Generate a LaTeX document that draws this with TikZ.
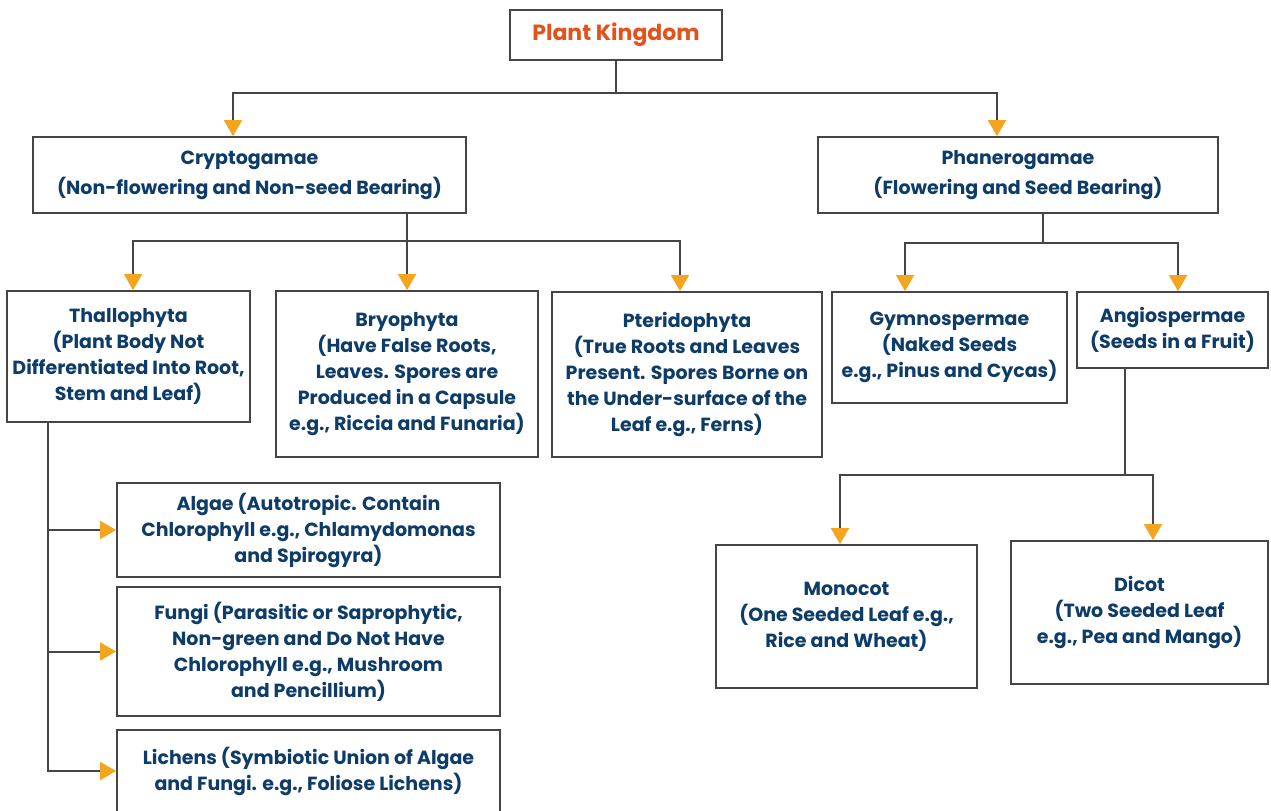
\documentclass[tikz,border=0pt]{standalone}
\usepackage{fontspec}
\setmainfont{Poppins}
\usepackage{xcolor}
\usetikzlibrary{arrows.meta, positioning, calc}
\definecolor{kingorange}{HTML}{E4521B}
\definecolor{textnavy}{HTML}{0E3C68}
\definecolor{tiporange}{HTML}{F3A51E}
\definecolor{linegray}{HTML}{454545}

\begin{document}
\begin{tikzpicture}[x=0.5pt, y=-0.5pt,
    box/.style={draw=linegray, line width=0.9pt, fill=white, align=center, text=textnavy,
      font=\bfseries\fontsize{9.5}{13}\selectfont, inner sep=2pt},
    link/.style={draw=linegray, line width=1pt},
    arr/.style={link, -{Triangle[width=9pt, length=8pt, color=tiporange]}}]
      \useasboundingbox (0,0) rectangle (1271,810);
      \clip (0,0) rectangle (1271,810);

      % Root
      \node[box, minimum width=106pt, minimum height=25pt, text=kingorange,
        font=\bfseries\fontsize{11}{13}\selectfont] (kingdom) at (616,35) {Plant Kingdom};

      % Two main divisions
      \node[box, minimum width=216.5pt, minimum height=38pt, font=\bfseries\fontsize{9.5}{15}\selectfont]
        (crypto) at (249.5,175) {Cryptogamae\\(Non-flowering and Non-seed Bearing)};
      \node[box, minimum width=200pt, minimum height=38pt, font=\bfseries\fontsize{9.5}{15}\selectfont]
        (phanero) at (1018,175) {Phanerogamae\\(Flowering and Seed Bearing)};

      % Cryptogamae groups
      \node[box, minimum width=121.5pt, minimum height=65.5pt] (thallo) at (128.5,356.5)
        {Thallophyta\\(Plant Body Not\\Differentiated Into Root,\\Stem and Leaf)};
      \node[box, minimum width=131pt, minimum height=83pt] (bryo) at (407,374)
        {Bryophyta\\(Have False Roots,\\Leaves. Spores are\\Produced in a Capsule\\e.g., Riccia and Funaria)};
      \node[box, minimum width=135pt, minimum height=82.5pt] (pterido) at (687,374.5)
        {Pteridophyta\\(True Roots and Leaves\\Present. Spores Borne on\\the Under-surface of the\\Leaf e.g., Ferns)};

      % Phanerogamae groups
      \node[box, minimum width=117.5pt, minimum height=55.5pt] (gymno) at (949.5,347.5)
        {Gymnospermae\\(Naked Seeds\\e.g., Pinus and Cycas)};
      \node[box, minimum width=95.5pt, minimum height=38pt] (angio) at (1172.5,330)
        {Angiospermae\\(Seeds in a Fruit)};
      \node[box, minimum width=130.5pt, minimum height=71.5pt] (monocot) at (846.5,616.5)
        {Monocot\\(One Seeded Leaf e.g.,\\Rice and Wheat)};
      \node[box, minimum width=128.5pt, minimum height=71.5pt] (dicot) at (1139.5,612.5)
        {Dicot\\(Two Seeded Leaf\\e.g., Pea and Mango)};

      % Thallophyta groups
      \node[box, minimum width=191.5pt, minimum height=47pt] (algae) at (308.5,530)
        {Algae (Autotropic. Contain\\Chlorophyll e.g., Chlamydomonas\\and Spirogyra)};
      \node[box, minimum width=191.5pt, minimum height=64.5pt] (fungi) at (308.5,651.5)
        {Fungi (Parasitic or Saprophytic,\\Non-green and Do Not Have\\Chlorophyll e.g., Mushroom\\and Pencillium)};
      \node[box, minimum width=191.5pt, minimum height=41pt] (lichens) at (308.5,771)
        {Lichens (Symbiotic Union of Algae\\and Fungi. e.g., Foliose Lichens)};

      % Kingdom split
      \draw[link] (kingdom.south) -- ++(0,32) coordinate (kj);
      \draw[arr] (kj) -| ([xshift=-8.25pt]crypto.north);
      \draw[arr] (kj) -| ([xshift=-10.5pt]phanero.north);

      % Cryptogamae split
      \draw[link] ([xshift=78.75pt]crypto.south) -- ++(0,27) coordinate (cj);
      \draw[arr] (cj) -| ([xshift=2.25pt]thallo.north);
      \draw[arr] (cj) -- (bryo.north);
      \draw[arr] (cj) -| ([xshift=-3.5pt]pterido.north);

      % Phanerogamae split
      \draw[link] ([xshift=12.5pt]phanero.south) -- ++(0,29) coordinate (pj);
      \draw[arr] (pj) -| ([xshift=-22.25pt]gymno.north);
      \draw[arr] (pj) -| ([xshift=2.75pt]angio.north);

      % Angiospermae split
      \draw[link] ([xshift=-23.75pt]angio.south) -- ++(0,106) coordinate (aj);
      \draw[arr] (aj) -| ([xshift=-3.25pt]monocot.north);
      \draw[arr] (aj) -| ([xshift=6.75pt]dicot.north);

      % Thallophyta trunk
      \coordinate (tj) at ([xshift=-40.25pt]thallo.south);
      \draw[arr] (tj) |- (lichens.west);
      \draw[arr] (tj |- algae.west) -- (algae.west);
      \draw[arr] (tj |- fungi.west) -- (fungi.west);

    \end{tikzpicture}
\end{document}
